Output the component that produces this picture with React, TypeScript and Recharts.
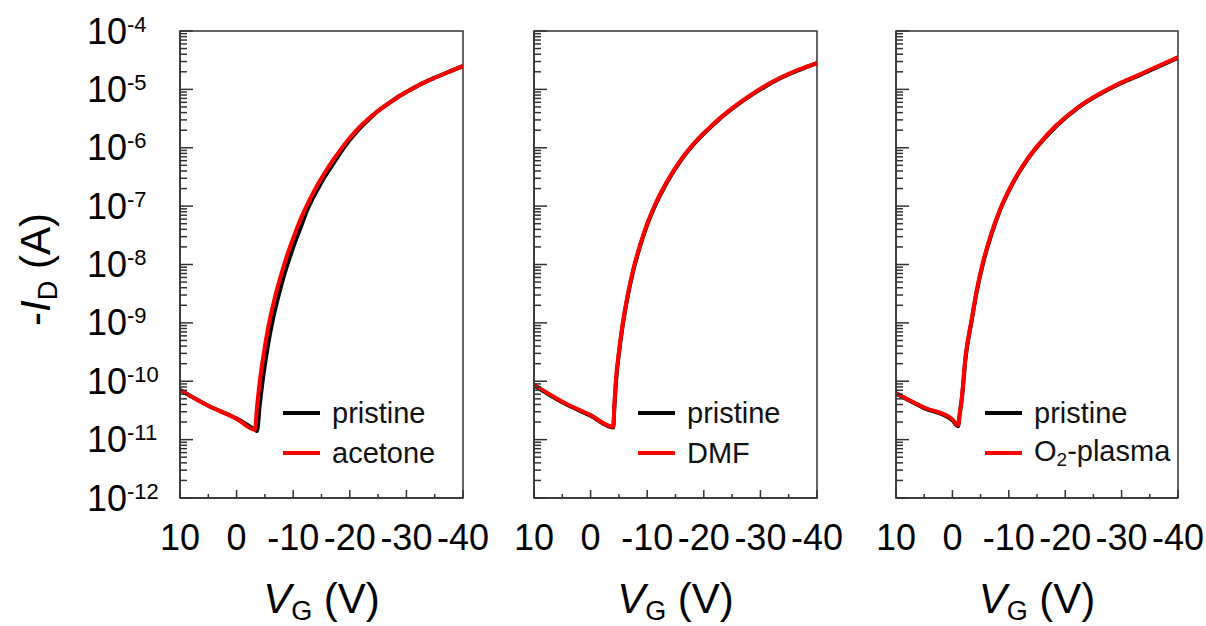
import React from 'react';
import { LineChart, Line, XAxis, YAxis, ReferenceArea, Legend } from 'recharts';

// ---------- data ----------
// Panel 1: pristine vs acetone
const vg1 = [10, 5, 0, -3.25, -3.6, -4.1, -4.8, -5.6, -6.5, -7.5, -8.5, -9.5, -10.5, -11.5, -12.5, -13.5, -14.5, -15.5, -16.5, -17.5, -19, -21, -23, -25, -27, -29, -31, -33, -35, -37.5, -40];
const pristine1 = [7.08e-11, 3.8e-11, 2.29e-11, 1.48e-11, 1.41e-11, 3.98e-11, 1.41e-10, 4.47e-10, 1.26e-9, 3.16e-9, 7.08e-9, 1.41e-8, 2.69e-8, 4.79e-8, 8.71e-8, 1.38e-7, 2.09e-7, 3.09e-7, 4.37e-7, 6.17e-7, 1.02e-6, 1.78e-6, 2.82e-6, 4.27e-6, 5.89e-6, 7.94e-6, 1.02e-5, 1.29e-5, 1.58e-5, 2.0e-5, 2.51e-5];
const acetone1 = [7.08e-11, 3.8e-11, 2.29e-11, 1.48e-11, 3.55e-11, 1.0e-10, 3.02e-10, 8.51e-10, 2.14e-9, 5.01e-9, 1.07e-8, 2.09e-8, 3.8e-8, 6.61e-8, 1.07e-7, 1.66e-7, 2.51e-7, 3.63e-7, 5.13e-7, 7.08e-7, 1.12e-6, 1.91e-6, 2.95e-6, 4.27e-6, 5.89e-6, 7.94e-6, 1.02e-5, 1.29e-5, 1.58e-5, 2.0e-5, 2.51e-5];

// Panel 2: pristine vs DMF
const vg2 = [10, 5, 0, -4, -4.2, -4.5, -5, -5.7, -6.5, -7.5, -8.7, -10, -11.5, -13.5, -16, -18.5, -21.6, -24.5, -27.6, -30.5, -33.5, -36.8, -40];
const pristine2 = [8.51e-11, 4.37e-11, 2.57e-11, 1.62e-11, 3.55e-11, 1.02e-10, 2.95e-10, 9.55e-10, 2.69e-9, 7.59e-9, 2.0e-8, 4.79e-8, 1.07e-7, 2.57e-7, 6.17e-7, 1.23e-6, 2.45e-6, 4.27e-6, 7.08e-6, 1.07e-5, 1.55e-5, 2.14e-5, 2.82e-5];
const dmf2 = [8.71e-11, 4.47e-11, 2.63e-11, 1.66e-11, 3.98e-11, 1.12e-10, 3.16e-10, 1.0e-9, 2.82e-9, 7.94e-9, 2.09e-8, 5.01e-8, 1.12e-7, 2.63e-7, 6.31e-7, 1.26e-6, 2.51e-6, 4.37e-6, 7.24e-6, 1.1e-5, 1.58e-5, 2.19e-5, 2.82e-5];

// Panel 3: pristine vs O2-plasma
const vg3 = [10, 5, 0, -1, -1.3, -1.7, -2.3, -3.4, -4.3, -5.4, -6.8, -8.4, -10.7, -13.1, -15.5, -18.4, -22.5, -27.3, -30, -33.1, -36.5, -40];
const pristine3 = [6.17e-11, 3.47e-11, 2.14e-11, 1.7e-11, 2.69e-11, 5.25e-11, 2.34e-10, 1.07e-9, 3.39e-9, 1.02e-8, 3.02e-8, 8.32e-8, 2.45e-7, 5.89e-7, 1.17e-6, 2.34e-6, 5.01e-6, 9.55e-6, 1.29e-5, 1.74e-5, 2.45e-5, 3.47e-5];
const plasma3 = [6.31e-11, 3.55e-11, 2.24e-11, 1.78e-11, 2.82e-11, 5.62e-11, 2.51e-10, 1.12e-9, 3.55e-9, 1.07e-8, 3.16e-8, 8.51e-8, 2.51e-7, 6.03e-7, 1.2e-6, 2.4e-6, 5.13e-6, 9.77e-6, 1.32e-5, 1.78e-5, 2.51e-5, 3.55e-5];

const treatmentNames = ['acetone', 'DMF', 'O2-plasma'];

// ---------- ticks ----------
const xTicks = [10, 5, 0, -5, -10, -15, -20, -25, -30, -35, -40];
const xMajorTicks = [10, 0, -10, -20, -30, -40];
const decadeExponents = [-12, -11, -10, -9, -8, -7, -6, -5, -4];
const minorMultipliers = [2, 3, 4, 5, 6, 7, 8, 9];
const yTicks: number[] = [];
decadeExponents.forEach((e) => {
  yTicks.push(Math.pow(10, e));
  if (e < -4) minorMultipliers.forEach((m) => yTicks.push(m * Math.pow(10, e)));
});

const FONT = '"Liberation Sans", Arial, sans-serif';
const FRAME = '#333';

const YTick = (props: any) => {
  const { x, y, payload, showLabel } = props;
  const v = payload.value;
  const lg = Math.log10(v);
  const exp = Math.round(lg);
  const major = Math.abs(lg - exp) < 1e-6;
  return (
    <g>
      <line x1={x} x2={x + (major ? 13 : 7)} y1={y} y2={y} stroke={FRAME} strokeWidth={1.5} />
      {major && showLabel ? (
        <text x={x - 93} y={y + 12.5} fontSize={36} fontFamily={FONT} fill="#000" textAnchor="start">
          10
          <tspan dy={-12} fontSize={22}>{String(exp)}</tspan>
        </text>
      ) : null}
    </g>
  );
};

const XTick = (props: any) => {
  const { x, y, payload } = props;
  const v = payload.value;
  const major = xMajorTicks.indexOf(v) >= 0;
  return (
    <g>
      <line x1={x} x2={x} y1={y} y2={y - (major ? 8 : 4)} stroke={FRAME} strokeWidth={1.5} />
      {major ? (
        <text x={x} y={y + 52} fontSize={36} fontFamily={FONT} fill="#000" textAnchor="middle">
          {String(v)}
        </text>
      ) : null}
    </g>
  );
};

const XTitle = (props: any) => {
  const vb = props.viewBox;
  const cx = vb.x + vb.width / 2;
  const cy = vb.y + 115;
  return (
    <text x={cx} y={cy} fontSize={42} fontFamily={FONT} fill="#000" textAnchor="middle">
      <tspan fontStyle="italic">V</tspan>
      <tspan fontSize={27} dy={7}>G</tspan>
      <tspan dy={-7}> (V)</tspan>
    </text>
  );
};

const YTitle = (props: any) => {
  const vb = props.viewBox;
  const cx = vb.x + 50;
  const cy = vb.y + vb.height / 2 + 5;
  return (
    <text x={cx} y={cy} transform={`rotate(-90 ${cx} ${cy})`} fontSize={42} fontFamily={FONT} fill="#000" textAnchor="middle">
      <tspan>-</tspan>
      <tspan fontStyle="italic">I</tspan>
      <tspan fontSize={27} dy={7}>D</tspan>
      <tspan dy={-7}> (A)</tspan>
    </text>
  );
};

const renderName = (name: string) => {
  if (name.indexOf('O2') === 0) {
    return (
      <span>
        O<sub style={{ fontSize: 19, verticalAlign: -5 }}>2</sub>
        {name.slice(2)}
      </span>
    );
  }
  return <span>{name}</span>;
};

const LegendContent = (props: any) => {
  const payload = [...(props.payload || [])].sort((a: any, b: any) =>
    (a.dataKey === 'pristine' ? 0 : 1) - (b.dataKey === 'pristine' ? 0 : 1)
  );
  return (
    <div style={{ fontFamily: FONT, fontSize: 29, color: '#111' }}>
      {payload.map((entry: any, i: number) => (
        <div key={i} style={{ display: 'flex', alignItems: 'center', height: 40, whiteSpace: 'nowrap' }}>
          <span style={{ display: 'inline-block', width: 37, height: 4, background: entry.color, marginRight: 12 }} />
          {renderName(String(entry.value))}
        </div>
      ))}
    </div>
  );
};

const panels = [
  { left: 0, width: 500, axisWidth: 180, plotWidth: 283, vg: vg1, pristine: pristine1, treated: acetone1, name: treatmentNames[0], showY: true, legendLeft: 283 },
  { left: 500, width: 360, axisWidth: 34, plotWidth: 283, vg: vg2, pristine: pristine2, treated: dmf2, name: treatmentNames[1], showY: false, legendLeft: 138 },
  { left: 860, width: 346, axisWidth: 36, plotWidth: 282, vg: vg3, pristine: pristine3, treated: plasma3, name: treatmentNames[2], showY: false, legendLeft: 125 },
];

const Panel = ({ p }: { p: any }) => {
  const rows = p.vg.map((v: number, i: number) => ({ vg: v, pristine: p.pristine[i], treated: p.treated[i] }));
  const rightMargin = p.width - p.axisWidth - p.plotWidth;
  return (
    <div style={{ position: 'absolute', left: p.left, top: 0 }}>
      <LineChart width={p.width} height={626} data={rows} margin={{ top: 31, right: rightMargin, bottom: 0, left: 0 }}>
        <XAxis
          dataKey="vg"
          type="number"
          domain={[-40, 10]}
          reversed
          allowDataOverflow
          ticks={xTicks}
          interval={0}
          tickSize={0}
          tickMargin={0}
          tickLine={false}
          height={128}
          axisLine={{ stroke: FRAME, strokeWidth: 1.5 }}
          tick={(tp: any) => <XTick {...tp} />}
          label={XTitle}
        />
        <YAxis
          type="number"
          scale="log"
          domain={[1e-12, 1e-4]}
          allowDataOverflow
          ticks={yTicks}
          interval={0}
          tickSize={0}
          tickMargin={0}
          tickLine={false}
          width={p.axisWidth}
          axisLine={{ stroke: FRAME, strokeWidth: 1.5 }}
          tick={(tp: any) => <YTick {...tp} showLabel={p.showY} />}
          label={p.showY ? YTitle : undefined}
        />
        <ReferenceArea x1={-40} x2={10} y1={1e-12} y2={1e-4} fill="none" stroke={FRAME} strokeWidth={1.5} fillOpacity={0} />
        <Line dataKey="pristine" name="pristine" type="monotone" stroke="#000" strokeWidth={4} dot={false} isAnimationActive={false} />
        <Line dataKey="treated" name={p.name} type="monotone" stroke="#ff0000" strokeWidth={4} dot={false} isAnimationActive={false} />
        <Legend
          layout="horizontal"
          verticalAlign="middle"
          align="center"
          content={LegendContent}
          wrapperStyle={{ left: p.legendLeft, top: 393, width: 'auto', height: 'auto' }}
        />
      </LineChart>
    </div>
  );
}

export default function App() {
  return (
    <div style={{ position: 'absolute', left: 0, top: 0, width: 1206, height: 626, background: '#fff' }}>
      {panels.map((p, i) => (
        <Panel key={i} p={p} />
      ))}
    </div>
  );
}
